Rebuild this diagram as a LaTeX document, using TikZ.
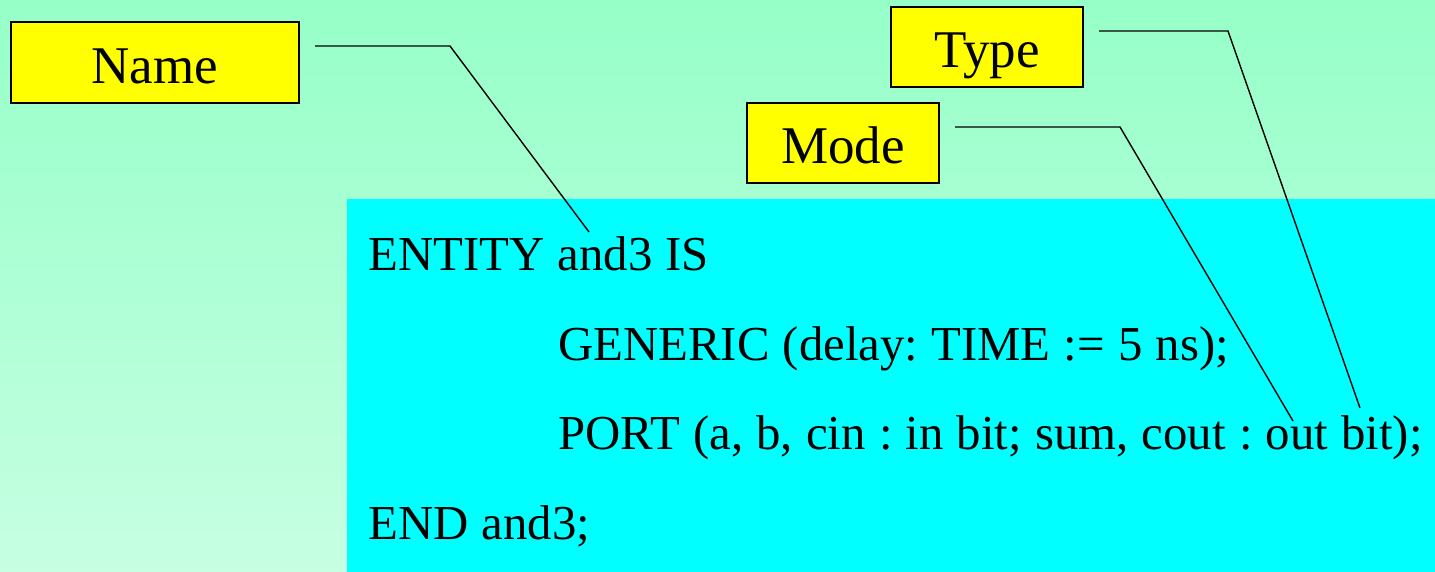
\documentclass[tikz,border=0pt]{standalone}
\usepackage{fontspec}
\setmainfont{Liberation Serif}[WordSpace={1.08,0,0}]
\frenchspacing
\definecolor{bgtop}{RGB}{150,255,200}
\definecolor{bgbot}{RGB}{198,255,226}
\definecolor{codebg}{RGB}{0,255,255}
\definecolor{labelbg}{RGB}{255,255,0}
\begin{document}
\begin{tikzpicture}[x=1pt,y=-1pt,
  labelbox/.style={draw=black, line width=1.4pt, fill=labelbg, inner sep=0pt},
  labeltext/.style={anchor=base, inner sep=0pt, font=\fontsize{53}{60}\selectfont},
  codetext/.style={anchor=base west, inner sep=0pt, font=\fontsize{48.8}{58}\selectfont},
  pointer/.style={draw=black, line width=1.4pt}]
\useasboundingbox (0,0) rectangle (1435,572);
\shade[top color=bgtop, bottom color=bgbot] (0,0) rectangle (1435,572);
\fill[codebg] (347,199) rectangle (1435,572);
% label boxes
\node[labelbox, minimum width=288pt, minimum height=81pt] (namebox) at (155,62.5) {};
\node[labeltext] (namet) at (155,84) {Name};
\node[labelbox, minimum width=192pt, minimum height=80pt] (typebox) at (987,47) {};
\node[labeltext] (typet) at (987,68) {Type};
\node[labelbox, minimum width=192pt, minimum height=80pt] (modebox) at (843,143) {};
\node[labeltext] (modet) at (843,164) {Mode};
% code text
\node[codetext] (l1) at (368,270.5) {ENTITY and3 IS};
\node[codetext] (l2) at (558,360) {GENERIC (delay: TIME := 5 ns);};
\node[codetext] (l3) at (558,449.5) {PORT (a, b, cin : in bit; sum, cout : out bit);};
\node[codetext] (l4) at (368,539) {END and3;};
% pointer coordinates
\coordinate (nameS) at (315,46);
\coordinate (nameC) at (450,46);
\coordinate (nameE) at (589,232);
\coordinate (modeS) at (955,127);
\coordinate (modeC) at (1120,127);
\coordinate (modeE) at (1293,421);
\coordinate (typeS) at (1099,31);
\coordinate (typeC) at (1228,31);
\coordinate (typeE) at (1360,408);
\draw[pointer] (nameS) -- (nameC) -- (nameE);
\draw[pointer] (modeS) -- (modeC) -- (modeE);
\draw[pointer] (typeS) -- (typeC) -- (typeE);
\end{tikzpicture}
\end{document}
